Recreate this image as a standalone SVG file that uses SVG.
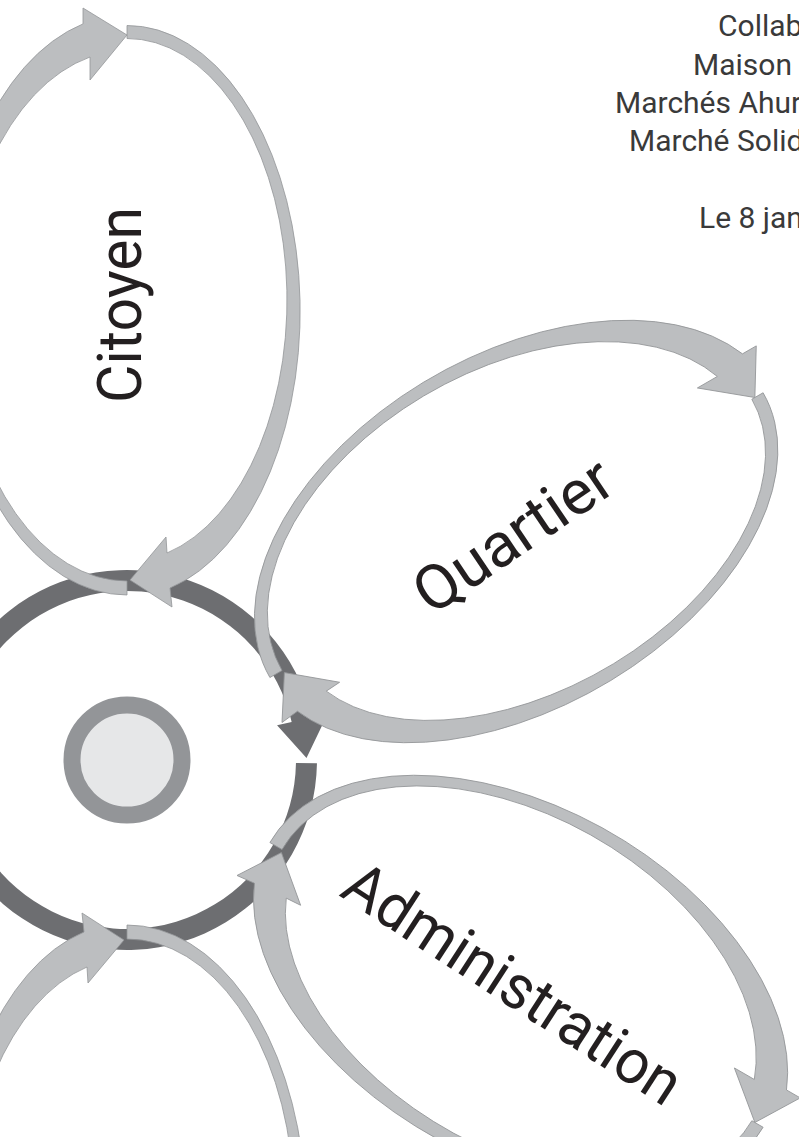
<svg xmlns="http://www.w3.org/2000/svg" width="799" height="1137" viewBox="0 0 799 1137">
  <style>
    .arrow { fill: #bcbec0; stroke: #939598; stroke-width: 0.8; stroke-linejoin: miter; }
    .ring { fill: #6d6e71; }
    .label { font-family: Roboto, "Liberation Sans", sans-serif; font-size: 62px; fill: #231f20; }
    .note { font-family: Roboto, "Liberation Sans", sans-serif; font-size: 30px; fill: #3a3a3a; }
  </style>
  <defs>
    <!-- One petal loop, local origin at the hub, petal pointing up:
         left half climbs to the far tip, right half runs back down to the hub. -->
    <g id="petal-loop">
      <path class="arrow" d="M0 -165 A179 290 0 0 1 -44 -736.1 L-44 -752 L0 -725 L-37 -680 L-37 -703 A167 265.3 0 0 0 0 -179 Z"/>
      <path class="arrow" d="M0 -734.5 A173 285.7 0 0 1 43 -172 L45 -153 L3 -180 L39 -223 L40 -207 A160 261.4 0 0 0 0 -721.5 Z"/>
    </g>
  </defs>

  <rect width="799" height="1137" fill="#ffffff"/>

  <!-- circular arrow around the hub -->
  <g id="connectors">
    <path class="ring" transform="translate(127 760)"
          d="M189.97 3.32 A190 190 0 1 1 185.13 -42.74 L200.72 -46.34 L179.5 -2 L150.05 -34.64 L164.67 -38.02 A169 169 0 1 0 168.97 2.95 Z"/>
  </g>

  <!-- hub -->
  <g id="hub">
    <circle cx="127" cy="760" r="55" fill="#e6e7e8" stroke="#939598" stroke-width="17"/>
  </g>

  <g id="petal-citoyen">
    <use href="#petal-loop" transform="translate(127 760)"/>
    <text class="label" transform="translate(118 305) rotate(-90)" x="0" y="23" text-anchor="middle" textLength="196" lengthAdjust="spacingAndGlyphs">Citoyen</text>
  </g>

  <g id="petal-quartier">
    <use href="#petal-loop" transform="translate(127 760) rotate(60)"/>
    <text class="label" transform="translate(512 534) rotate(-34)" x="0" y="23" text-anchor="middle" textLength="226" lengthAdjust="spacingAndGlyphs">Quartier</text>
  </g>

  <g id="petal-administration">
    <use href="#petal-loop" transform="translate(127 760) rotate(120)"/>
    <text class="label" transform="translate(514 982) rotate(33)" x="0" y="23" text-anchor="middle" textLength="390" lengthAdjust="spacingAndGlyphs">Administration</text>
  </g>

  <g id="petal-bottom">
    <use href="#petal-loop" transform="translate(127 760) rotate(180)"/>
  </g>

  <g id="petal-lower-left">
    <use href="#petal-loop" transform="translate(127 760) rotate(240)"/>
  </g>

  <!-- header block, running off the right edge -->
  <g id="header">
    <text class="note" x="718" y="36">Collab</text>
    <text class="note" x="693" y="75">Maison</text>
    <text class="note" x="615" y="113">Marchés Ahur</text>
    <text class="note" x="629" y="151">Marché Solid</text>
    <text class="note" x="699" y="228">Le 8 jan</text>
  </g>
</svg>
